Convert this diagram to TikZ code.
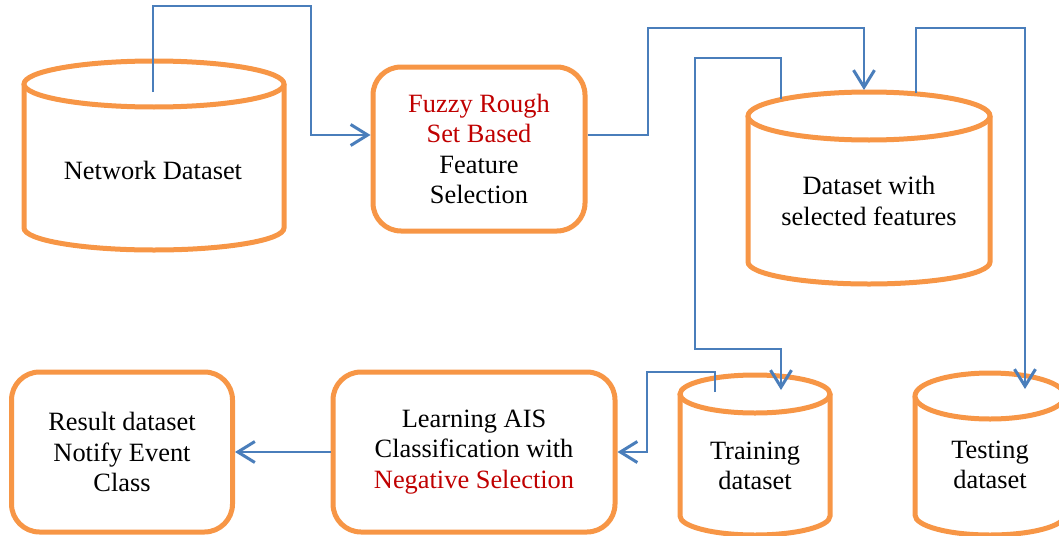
\documentclass[tikz,border=0pt]{standalone}
\usepackage{fontspec}
\setmainfont{Liberation Serif}
\usetikzlibrary{arrows.meta}
\definecolor{cylorange}{HTML}{F79646}
\definecolor{linkblue}{HTML}{4A7EBB}
\definecolor{hilite}{HTML}{C00000}

% database drum: left x, right x, top centre y, top radius y, bottom centre y, bottom radius y
\newcommand\drumshape[6]{%
  \pgfmathsetmacro\drumrx{(#2-#1)/2}%
  \pgfmathsetmacro\drumcx{(#1+#2)/2}%
  \fill[white] (#1,#3) -- (#1,#5) arc[start angle=180,end angle=360,x radius=\drumrx pt,y radius=#6pt] -- (#2,#3) -- cycle;
  \draw[drum] (#1,#3) -- (#1,#5) arc[start angle=180,end angle=360,x radius=\drumrx pt,y radius=#6pt] -- (#2,#3);
  \filldraw[drum,fill=white] (\drumcx,#3) ellipse[x radius=\drumrx pt,y radius=#4pt];
}

\tikzset{
  drum/.style={draw=cylorange, line width=5pt},
  procbox/.style={draw=cylorange, line width=5pt, rounded corners=28pt, fill=white,
    align=center, inner sep=0pt, font=\fontsize{26.4}{30.5}\selectfont},
  txt/.style={align=center, inner sep=0pt, font=\fontsize{26.4}{30.5}\selectfont},
  conn/.style={draw=linkblue, line width=2.2pt,
    -{Straight Barb[length=17pt,width=21pt,line width=3pt]}},
}

\begin{document}
\begin{tikzpicture}[x=1pt,y=-1pt]
\useasboundingbox (0,0) rectangle (1059,535);
\clip (0,0) rectangle (1059,535);

% storage drums
\drumshape{24}{284}{84}{23}{228}{22}
\drumshape{748}{990}{116}{24}{262}{22}
\drumshape{680}{830}{394}{19}{516}{19}
\drumshape{915}{1065}{396}{23}{515}{20}

\node[txt] (net) at (153,170) {Network Dataset};
\node[txt] (dsel) at (869,201) {Dataset with\\selected features};
\node[txt] (train) at (755,466) {Training\\dataset};
\node[txt] (test) at (990,465) {Testing\\dataset};

% processing steps
\node[procbox, minimum width=212pt, minimum height=164pt] (fuzzy) at (479,149)
  {\textcolor{hilite}{Fuzzy Rough}\\\textcolor{hilite}{Set Based}\\Feature\\Selection};
\node[procbox, minimum width=282pt, minimum height=160pt] (learn) at (474,452)
  {Learning AIS\\Classification with\\\textcolor{hilite}{Negative Selection}};
\node[procbox, minimum width=221pt, minimum height=160pt] (result) at (122,452)
  {Result dataset\\Notify Event\\Class};

% connector ends on the drums
\coordinate (netOut) at (153,92);
\coordinate (dselIn) at (864,90);
\coordinate (dselOutA) at (781,99);
\coordinate (dselOutB) at (916,93);
\coordinate (trainIn) at (781,390);
\coordinate (trainOut) at (715,392);
\coordinate (testIn) at (1025,389);

% data flow
\draw[conn] (netOut) |- (311,6) |- ([yshift=14pt]fuzzy.west);
\draw[conn] ([yshift=14pt]fuzzy.east) -| (648,28) -| (dselIn);
\draw[conn] (dselOutA) |- (695,58) |- (781,349) -- (trainIn);
\draw[conn] (dselOutB) |- (1025,28) -- (testIn);
\draw[conn] (trainOut) |- (647,372) |- (learn.east);
\draw[conn] (learn.west) -- (result.east);
\end{tikzpicture}
\end{document}
